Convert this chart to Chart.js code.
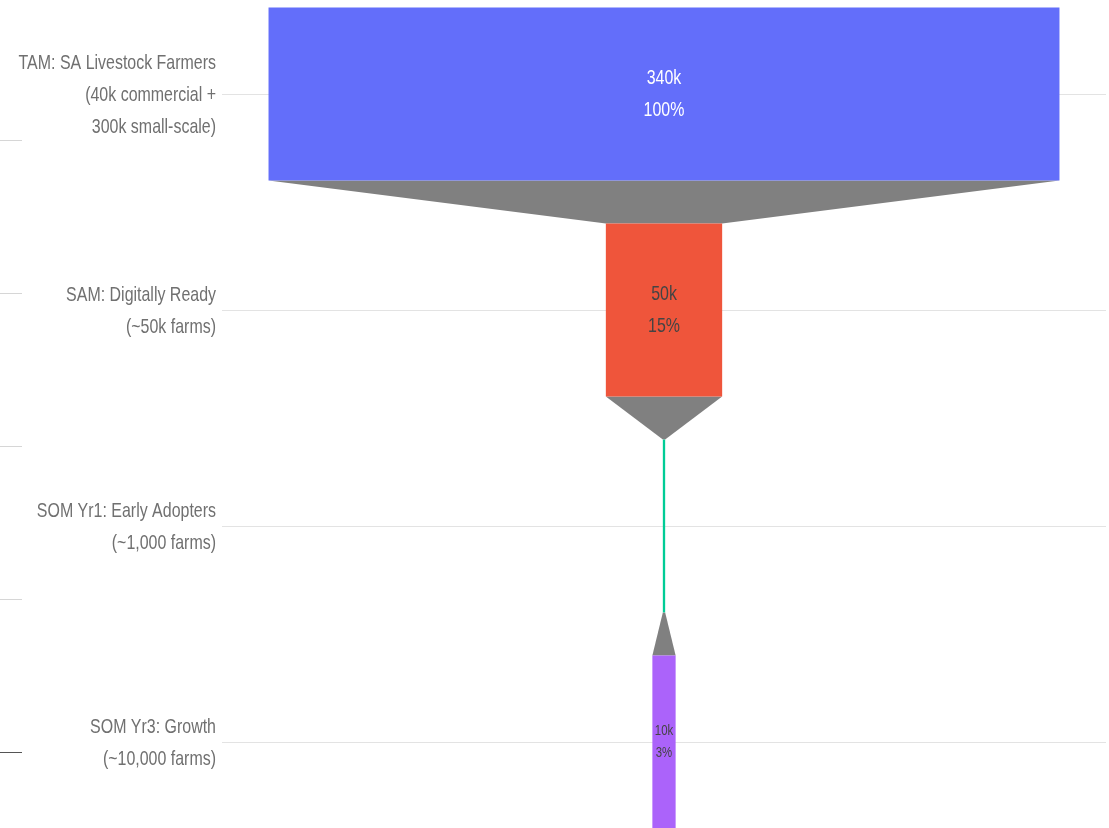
<!DOCTYPE html>
<html>
<head>
<meta charset="utf-8">
<script src="https://cdn.jsdelivr.net/npm/chart.js@4.4.1/dist/chart.umd.min.js"></script>
<style>
  html, body { margin: 0; padding: 0; background: #fff; overflow: hidden; }
  body { width: 1109px; height: 828px; position: relative; }
  #wrap { position: absolute; left: 0; top: -14px; width: 1109px; height: 864px; }
</style>
</head>
<body>
<div id="wrap"><canvas id="funnel"></canvas></div>
<script>
// funnel stages (label lines), values and colours
var stages = [
    ['TAM: SA Livestock Farmers', '(40k commercial +', '300k small-scale)'],
    ['SAM: Digitally Ready', '(~50k farms)'],
    ['SOM Yr1: Early Adopters', '(~1,000 farms)'],
    ['SOM Yr3: Growth', '(~10,000 farms)']
];
var farmers = [340000, 50000, 1000, 10000];
var barColors = ['#636efa', '#ef553b', '#00cc96', '#ab63fa'];
var textColors = ['#ffffff', '#444444', '#444444', '#444444'];

// little grey marks on the far left edge (page y positions)
var edgeMarks = [140, 293, 446, 599, 752];

var FONT = '"Liberation Sans", Arial, sans-serif';
var SQUEEZE = 0.76; // the reference text is a narrow face

function kLabel(v) {
    return Math.round(v / 1000) + 'k';
}

// draw text squeezed horizontally
function narrowText(ctx, txt, x, y) {
    ctx.save();
    ctx.scale(SQUEEZE, 1);
    ctx.fillText(txt, x / SQUEEZE, y);
    ctx.restore();
}

// bars are centred on zero
var spans = farmers.map(function (v) { return [-v / 2, v / 2]; });

var connectorPlugin = {
    id: 'connectors',
    beforeDatasetsDraw: function (chart) {
        var ctx = chart.ctx;
        var bars = chart.getDatasetMeta(0).data;
        ctx.save();
        ctx.fillStyle = '#808080';
        for (var i = 0; i < bars.length - 1; i++) {
            var a = bars[i], b = bars[i + 1];
            var aL = Math.min(a.x, a.base), aR = Math.max(a.x, a.base);
            var bL = Math.min(b.x, b.base), bR = Math.max(b.x, b.base);
            var aBottom = a.y + a.height / 2;
            var bTop = b.y - b.height / 2;
            ctx.beginPath();
            ctx.moveTo(aL, aBottom);
            ctx.lineTo(aR, aBottom);
            ctx.lineTo(bR, bTop);
            ctx.lineTo(bL, bTop);
            ctx.closePath();
            ctx.fill();
        }
        ctx.restore();
    }
};

var textPlugin = {
    id: 'barText',
    afterDatasetsDraw: function (chart) {
        var ctx = chart.ctx;
        var bars = chart.getDatasetMeta(0).data;
        ctx.save();
        ctx.textAlign = 'center';
        ctx.textBaseline = 'middle';
        bars.forEach(function (bar, i) {
            var w = Math.abs(bar.x - bar.base);
            if (w < 10) return; // too thin for text
            var cx = (bar.x + bar.base) / 2;
            var pct = Math.round(farmers[i] / farmers[0] * 100) + '%';
            var small = w < 40;
            var size = small ? 15 : 21;
            var gap = small ? 11 : 16;
            ctx.fillStyle = textColors[i];
            ctx.font = size + 'px ' + FONT;
            narrowText(ctx, kLabel(farmers[i]), cx, bar.y - gap);
            narrowText(ctx, pct, cx, bar.y + gap);
        });
        ctx.restore();
    }
};

// category labels, drawn by hand so they can be narrow
var labelPlugin = {
    id: 'stageLabels',
    afterDraw: function (chart) {
        var ctx = chart.ctx;
        var yScale = chart.scales.y;
        ctx.save();
        ctx.fillStyle = '#707070';
        ctx.font = '21px ' + FONT;
        ctx.textAlign = 'right';
        ctx.textBaseline = 'middle';
        stages.forEach(function (lines, i) {
            var y = yScale.getPixelForTick(i) + 1;
            lines.forEach(function (line, j) {
                narrowText(ctx, line, yScale.right - 6, y + (j - (lines.length - 1) / 2) * 32);
            });
        });
        ctx.restore();
    }
};

var edgePlugin = {
    id: 'edgeMarks',
    afterDraw: function (chart) {
        var ctx = chart.ctx;
        ctx.save();
        edgeMarks.forEach(function (y, i) {
            ctx.strokeStyle = i === edgeMarks.length - 1 ? '#555555' : '#d6d6d6';
            ctx.lineWidth = 1;
            ctx.beginPath();
            ctx.moveTo(0, y + 14 + 0.5);
            ctx.lineTo(22, y + 14 + 0.5);
            ctx.stroke();
        });
        ctx.restore();
    }
};

var ctx = document.getElementById('funnel').getContext('2d');

var funnelChart = new Chart(ctx, {
    type: 'bar',
    data: {
        labels: stages,
        datasets: [{
            data: spans,
            backgroundColor: barColors,
            borderWidth: 0,
            borderSkipped: false,
            barPercentage: 0.8,
            categoryPercentage: 1.0
        }]
    },
    options: {
        indexAxis: 'y',
        responsive: true,
        maintainAspectRatio: false,
        animation: false,
        layout: { padding: { top: 0, bottom: 0, left: 0, right: 3 } },
        plugins: {
            legend: { display: false },
            tooltip: { enabled: false }
        },
        scales: {
            x: {
                display: false,
                min: -190000,
                max: 190000
            },
            y: {
                offset: true,
                border: { display: false },
                grid: {
                    offset: false,
                    color: '#e3e3e3',
                    lineWidth: 1,
                    drawTicks: false
                },
                ticks: {
                    display: false
                },
                afterFit: function (scale) {
                    scale.width = 222;
                    scale.paddingTop = 0;
                    scale.paddingBottom = 0;
                }
            }
        }
    },
    plugins: [connectorPlugin, textPlugin, labelPlugin, edgePlugin]
});
</script>
</body>
</html>
